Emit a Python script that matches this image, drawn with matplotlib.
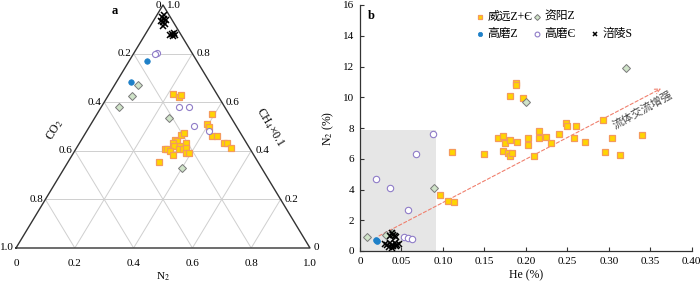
import matplotlib
matplotlib.use("Agg")
import matplotlib.pyplot as plt
import numpy as np

plt.rcParams['font.family'] = ['Liberation Serif', 'Noto Sans CJK SC', 'DejaVu Sans']
plt.rcParams['mathtext.fontset'] = 'stix'

# ---- panel a: ternary, fractions of N2 and CH4x0.1 (CO2 = rest) ----
wy_n2 = [0.217, 0.243, 0.246, 0.391, 0.395, 0.407, 0.437, 0.454, 0.491, 0.502,
         0.525, 0.328, 0.334, 0.319, 0.328, 0.318, 0.327, 0.348, 0.362, 0.303,
         0.310, 0.324, 0.350, 0.364, 0.372, 0.343, 0.383, 0.393, 0.309]
wy_ch4 = [0.634, 0.621, 0.630, 0.551, 0.510, 0.498, 0.461, 0.461, 0.432, 0.432,
          0.412, 0.465, 0.473, 0.444, 0.440, 0.432, 0.420, 0.420, 0.432, 0.407,
          0.407, 0.399, 0.407, 0.407, 0.412, 0.383, 0.391, 0.391, 0.354]
zy_n2 = [0.080, 0.082, 0.060, 0.253, 0.400]
zy_ch4 = [0.671, 0.626, 0.580, 0.535, 0.329]
gmz_n2 = [0.061, 0.050]
gmz_ch4 = [0.770, 0.683]
gmc_n2 = [0.079, 0.074, 0.264, 0.298, 0.354, 0.416]
gmc_ch4 = [0.802, 0.798, 0.580, 0.580, 0.502, 0.481]
fl_n2 = [0.021, 0.032, 0.035, 0.046, 0.026, 0.041, 0.043, 0.024,
         0.086, 0.091, 0.095, 0.103, 0.098]
fl_ch4 = [0.951, 0.942, 0.930, 0.922, 0.934, 0.938, 0.914, 0.959,
          0.877, 0.881, 0.885, 0.877, 0.872]

# ---- panel b: He (%) vs N2 (%) ----
wy_he = [0.188, 0.188, 0.181, 0.197, 0.293, 0.248, 0.250, 0.260, 0.216, 0.166,
         0.173, 0.175, 0.181, 0.189, 0.202, 0.203, 0.216, 0.224, 0.230, 0.240,
         0.258, 0.271, 0.304, 0.340, 0.111, 0.149, 0.172, 0.178, 0.181, 0.183,
         0.210, 0.296, 0.313, 0.0965, 0.1065, 0.1137]
wy_n2p = [10.91, 10.78, 10.06, 9.95, 8.50, 8.30, 8.11, 8.13, 7.78, 7.33,
          7.50, 7.00, 7.20, 7.07, 7.33, 6.89, 7.35, 7.41, 7.00, 7.59,
          7.33, 7.07, 7.37, 7.52, 6.46, 6.29, 6.48, 6.40, 6.18, 6.35,
          6.18, 6.46, 6.24, 3.62, 3.25, 3.17]
zy_he = [0.321, 0.200, 0.089, 0.008, 0.031, 0.038]
zy_n2p = [11.88, 9.67, 4.12, 0.93, 1.04, 1.19]
gmz_he = [0.0193, 0.021]
gmz_n2p = [0.72, 0.65]
gmc_he = [0.0877, 0.067, 0.0193, 0.0366, 0.0579, 0.0535, 0.058, 0.0623]
gmc_n2p = [7.61, 6.29, 4.66, 4.10, 2.65, 0.89, 0.87, 0.76]
fl_he = [0.038, 0.040, 0.042, 0.036, 0.044, 0.030, 0.033, 0.036,
         0.039, 0.042, 0.045, 0.047, 0.035, 0.040, 0.043, 0.038]
fl_n2p = [1.15, 1.05, 0.95, 1.00, 0.90, 0.45, 0.38, 0.50,
          0.42, 0.55, 0.40, 0.48, 0.28, 0.30, 0.32, 0.22]

# region of weak fluid exchange and trend arrow
box_he = 0.092
box_n2 = 7.85
trend_start = (0.02, 0.9)
trend_end = (0.366, 10.65)

styles = {
    'wy': dict(marker='s', ms=4.6, mfc='#FFD500', mec='#F49A5C', mew=0.9, ls='none'),
    'zy': dict(marker='D', ms=4.0, mfc='#CFE3C8', mec='#7A7A7A', mew=0.7, ls='none'),
    'gmz': dict(marker='o', ms=4.2, mfc='#1E80C8', mec='#1E80C8', mew=0.5, ls='none'),
    'gmc': dict(marker='o', ms=4.6, mfc='white', mec='#8F7CC8', mew=0.8, ls='none'),
    'fl': dict(marker='x', ms=4.2, mec='black', mew=1.1, ls='none'),
}
labels = {'wy': '威远Z+Є', 'zy': '资阳Z', 'gmz': '高磨Z', 'gmc': '高磨Є', 'fl': '涪陵S'}

fig = plt.figure(figsize=(7.0, 2.85), dpi=100)

# ================= panel a =================
ax1 = fig.add_axes([16 / 700, 37 / 285, 294 / 700, 243 / 285])
ax1.set_xlim(0, 1)
ax1.set_ylim(0, 1)
ax1.axis('off')

grid_kw = dict(color='#CFCFCF', lw=0.7, zorder=1)
for t in [0.2, 0.4, 0.6, 0.8]:
    ax1.plot([t / 2, 1 - t / 2], [t, t], **grid_kw)
    ax1.plot([t, t + (1 - t) / 2], [0, 1 - t], **grid_kw)
    ax1.plot([1 - t, (1 - t) / 2], [0, 1 - t], **grid_kw)
ax1.plot([0, 1, 0.5, 0], [0, 0, 1, 0], color='#333333', lw=1.0, zorder=2,
         clip_on=False)


def to_xy(n2, ch4):
    n2 = np.asarray(n2)
    ch4 = np.asarray(ch4)
    return n2 + ch4 / 2, ch4


for key, n2, ch4 in [('wy', wy_n2, wy_ch4), ('zy', zy_n2, zy_ch4),
                     ('gmz', gmz_n2, gmz_ch4), ('gmc', gmc_n2, gmc_ch4),
                     ('fl', fl_n2, fl_ch4)]:
    x, y = to_xy(n2, ch4)
    st = dict(styles[key])
    st['ms'] = st['ms'] * 0.95
    ax1.plot(x, y, zorder=4, clip_on=False, **st)

tick_vals = [0, 0.2, 0.4, 0.6, 0.8, 1.0]
tick_txt = ['0', '0.2', '0.4', '0.6', '0.8', '1.0']
for v, s in zip(tick_vals, tick_txt):
    # bottom: N2
    ax1.text(v, -0.045, s, ha='center', va='top', fontsize=8)
    # left: CO2 (0 at top)
    h = 1 - v
    ax1.text(h / 2 - 0.008, h, s, ha='right', va='center', fontsize=8)
    # right: CH4 x 0.1 (1.0 at top)
    ax1.text(1 - v / 2 + 0.014, v, s, ha='left', va='center', fontsize=8)

ax1.text(0.5, -0.118, 'N$_2$', ha='center', va='center', fontsize=8)
ax1.text(0.133, 0.486, 'CO$_2$', ha='center', va='center', rotation=59,
         fontsize=8.5)
ax1.text(0.864, 0.498, 'CH$_4$×0.1', ha='center', va='center', rotation=-59,
         fontsize=8.5)
ax1.text(0.337, 0.975, 'a', ha='center', va='center', fontsize=9,
         fontweight='bold')

# ================= panel b =================
ax2 = fig.add_axes([360 / 700, 34 / 285, 331.7 / 700, 246 / 285])
ax2.set_xlim(0, 0.40)
ax2.set_ylim(0, 16)
for sp in ['top', 'right']:
    ax2.spines[sp].set_visible(False)
for sp in ['left', 'bottom']:
    ax2.spines[sp].set_color('#333333')
    ax2.spines[sp].set_linewidth(0.9)
ax2.set_xticks(np.arange(0, 0.401, 0.05))
ax2.set_xticklabels(['0', '0.05', '0.10', '0.15', '0.20', '0.25', '0.30',
                     '0.35', '0.40'])
ax2.set_yticks(np.arange(0, 17, 2))
ax2.tick_params(direction='in', length=3, width=0.8, labelsize=8,
                color='#333333', pad=4)
ax2.set_xlabel('He (%)', fontsize=8.5, labelpad=3)
ax2.set_ylabel('N$_2$ (%)', fontsize=8.5, labelpad=5)

ax2.fill_between([0, box_he], 0, box_n2, color='#E6E6E6', lw=0, zorder=0)

ax2.annotate('', xy=trend_end, xytext=trend_start,
             arrowprops=dict(arrowstyle='->', color='#F0806E', lw=0.8,
                             ls=(0, (3, 2)), mutation_scale=9), zorder=2)
ax2.text(0.341, 9.15, '流体交流增强', rotation=29, ha='center', va='center',
         fontsize=8, color='#444444', family=['Noto Sans CJK SC'])

for key, he, n2 in [('wy', wy_he, wy_n2p), ('zy', zy_he, zy_n2p),
                    ('gmz', gmz_he, gmz_n2p), ('gmc', gmc_he, gmc_n2p),
                    ('fl', fl_he, fl_n2p)]:
    ax2.plot(he, n2, zorder=4, **styles[key])

ax2.text(0.033, 0.955, 'b', transform=ax2.transAxes, ha='center', va='center',
         fontsize=9, fontweight='bold')

# legend drawn by hand: two rows
leg_pos = {'wy': (0.362, 0.951), 'zy': (0.534, 0.951),
           'gmz': (0.362, 0.882), 'gmc': (0.534, 0.882), 'fl': (0.709, 0.882)}
for key, (lx, ly) in leg_pos.items():
    st = dict(styles[key])
    st['ms'] = st['ms'] * 0.75
    ax2.plot([lx], [ly], transform=ax2.transAxes, clip_on=False, **st)
    ax2.text(lx + 0.022, ly, labels[key], transform=ax2.transAxes,
             ha='left', va='center', fontsize=8.5)

fig.savefig('out.png', dpi=100)
